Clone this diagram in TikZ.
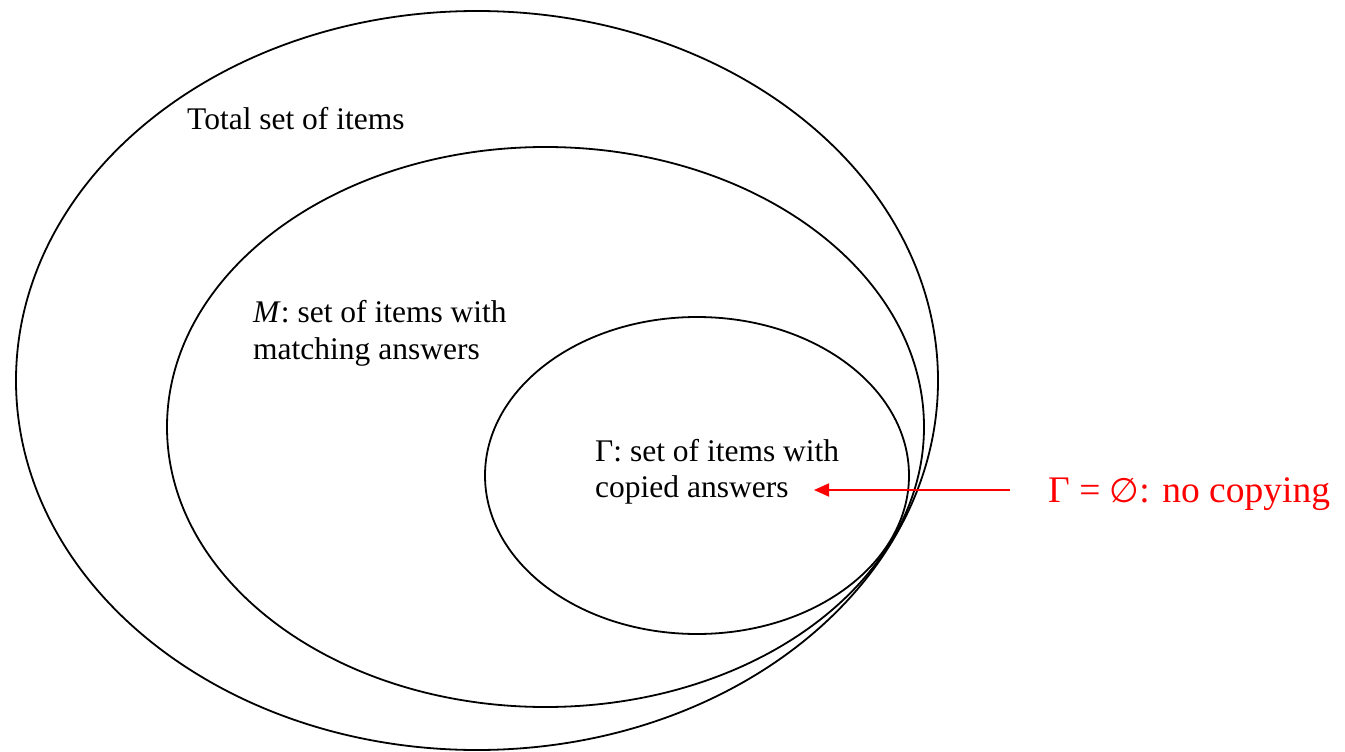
\documentclass[tikz,border=0pt]{standalone}
\usepackage{fontspec}
\setmainfont{Liberation Serif}
\newfontfamily\symfnt{DejaVu Sans}
\usetikzlibrary{arrows.meta}
\begin{document}
\begin{tikzpicture}[x=1pt,y=-1pt,
  setline/.style={draw=black,line width=1.8pt},
  lbl/.style={anchor=base west,inner sep=0pt,font=\fontsize{31.5}{36}\selectfont},
  redlbl/.style={anchor=base west,inner sep=0pt,text=red,font=\fontsize{37.5}{42}\selectfont},
  redarrow/.style={draw=red,line width=1.8pt,-{Triangle[length=15pt,width=13pt]}}]
\useasboundingbox (0,0) rectangle (1345,752);
% sets
\draw[setline] (477,380.5) ellipse [x radius=461, y radius=369.5];
\draw[setline] (545.5,427) ellipse [x radius=378.5, y radius=280];
\draw[setline] (697,475.5) ellipse [x radius=212, y radius=158.5];
% labels
\node[lbl] (total) at (187,129) {Total set of items};
\node[lbl] (m1) at (253,322) {\textit{M}: set of items with};
\node[lbl] (m2) at (253,359) {matching answers};
\node[lbl] (g1) at (595,461) {Γ: set of items with};
\node[lbl] (g2) at (595,497) {copied answers};
\node[redlbl] (nocopy) at (1048,502) {Γ = {\symfnt\fontsize{34}{40}\selectfont ∅}: no copying};
% arrow
\coordinate (arrS) at (1010,490);
\coordinate (arrE) at (814,490);
\draw[redarrow] (arrS) -- (arrE);
\end{tikzpicture}
\end{document}
